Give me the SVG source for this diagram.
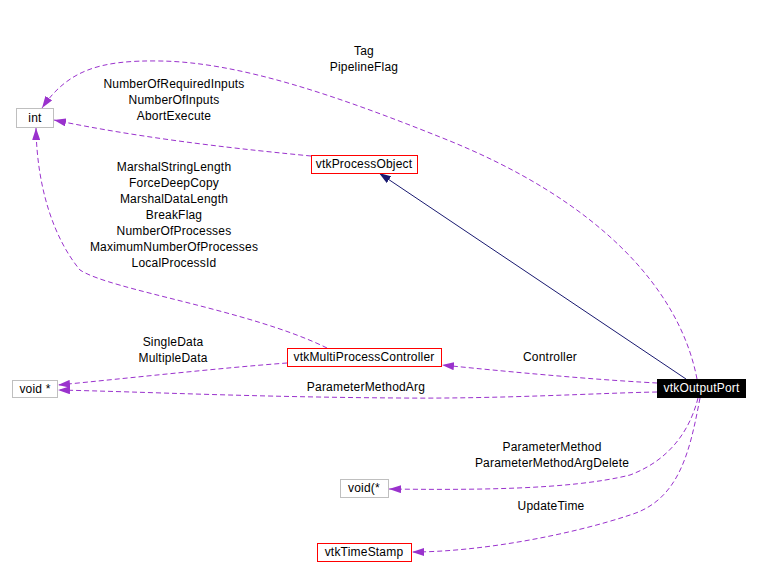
<svg xmlns="http://www.w3.org/2000/svg" width="760" height="578" viewBox="0 0 760 578">
<style>
text{font-family:"Liberation Sans",Arial,sans-serif;font-size:12px;fill:#000;text-anchor:middle;letter-spacing:0.2px}
.red{fill:#fff;stroke:#ff0000;stroke-width:1}
.grey{fill:#fff;stroke:#bfbfbf;stroke-width:1}
.blk{fill:#000;stroke:#000;stroke-width:1}
.wt{fill:#fff}
.use{fill:none;stroke:#9a32cd;stroke-width:1;stroke-dasharray:5,3;marker-end:url(#pa)}
.inh{fill:none;stroke:#191970;stroke-width:1;marker-end:url(#na)}
</style>
<defs>
<marker id="pa" viewBox="0 0 12 8" refX="12" refY="4" markerWidth="12" markerHeight="8" markerUnits="userSpaceOnUse" orient="auto">
<path d="M0,0 L12,4 L0,8 z" fill="#9a32cd"/>
</marker>
<marker id="na" viewBox="0 0 12 8" refX="12" refY="4" markerWidth="12" markerHeight="8" markerUnits="userSpaceOnUse" orient="auto">
<path d="M0,0 L12,4 L0,8 z" fill="#191970"/>
</marker>
</defs>
<g id="edges">
<path class="inh" d="M686,379 L379,173"/>
<path class="use" d="M697,379 C680,290 600,200 440,137 C340,97 240,62 160,61 C100,60 68,70 42,108"/>
<path class="use" d="M311,156 C250,150 150,140 54,120"/>
<path class="use" d="M327,348 C250,310 110,290 80,270 C55,240 37,190 36,128"/>
<path class="use" d="M287,363 C220,368 130,378 58,385"/>
<path class="use" d="M657,392 C600,393 500,399 400,398 C250,397 150,392 58,390"/>
<path class="use" d="M657,383 C620,381 560,377 442,365"/>
<path class="use" d="M698,398 C690,430 670,460 630,475 C570,490 470,490 389,489"/>
<path class="use" d="M700,398 C690,450 680,500 630,515 C570,535 480,552 412,552"/>
</g>
<g id="labels">
<text x="364" y="55">Tag</text>
<text x="364" y="71">PipelineFlag</text>
<text x="174" y="88">NumberOfRequiredInputs</text>
<text x="174" y="104">NumberOfInputs</text>
<text x="174" y="120">AbortExecute</text>
<text x="174" y="171">MarshalStringLength</text>
<text x="174" y="187">ForceDeepCopy</text>
<text x="174" y="203">MarshalDataLength</text>
<text x="174" y="219">BreakFlag</text>
<text x="174" y="235">NumberOfProcesses</text>
<text x="174" y="251">MaximumNumberOfProcesses</text>
<text x="174" y="267">LocalProcessId</text>
<text x="173" y="346">SingleData</text>
<text x="173" y="362">MultipleData</text>
<text x="550" y="361">Controller</text>
<text x="366" y="391">ParameterMethodArg</text>
<text x="552" y="451">ParameterMethod</text>
<text x="552" y="467">ParameterMethodArgDelete</text>
<text x="551" y="510">UpdateTime</text>
</g>
<g id="node-int"><rect class="grey" x="16.5" y="108.5" width="37" height="19"/><text x="35" y="122">int</text></g>
<g id="node-vtkProcessObject"><rect class="red" x="311.5" y="155.5" width="106" height="18"/><text x="364" y="168">vtkProcessObject</text></g>
<g id="node-vtkMultiProcessController"><rect class="red" x="287.5" y="348.5" width="154" height="18"/><text x="364" y="361">vtkMultiProcessController</text></g>
<g id="node-voidptr"><rect class="grey" x="12.5" y="380.5" width="45" height="17"/><text x="35" y="393">void *</text></g>
<g id="node-vtkOutputPort"><rect class="blk" x="657.5" y="379.5" width="88" height="18"/><text class="wt" x="701.5" y="392">vtkOutputPort</text></g>
<g id="node-voidfn"><rect class="grey" x="340.5" y="479.5" width="48" height="18"/><text x="364" y="492">void(*</text></g>
<g id="node-vtkTimeStamp"><rect class="red" x="317.5" y="543.5" width="94" height="18"/><text x="364" y="556">vtkTimeStamp</text></g>
</svg>
